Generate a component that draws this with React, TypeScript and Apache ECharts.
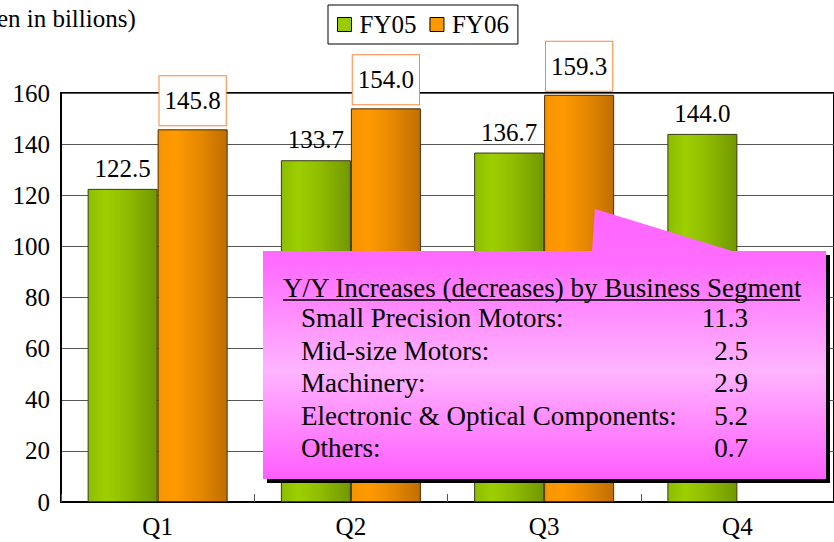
import React, { useEffect, useRef } from "react";
import * as echarts from "echarts";

const categories = ["Q1", "Q2", "Q3", "Q4"];
const fy05 = [122.5, 133.7, 136.7, 144.0];
const fy06: (number | null)[] = [145.8, 154.0, 159.3, null];
const seriesNames = ["FY05", "FY06"];
const yTicks = { min: 0, max: 160, interval: 20 };
const unitLabel = "(Yen in billions)";
const calloutTitle = "Y/Y Increases (decreases) by Business Segment";
const segments = [
  "Small Precision Motors:",
  "Mid-size Motors:",
  "Machinery:",
  "Electronic & Optical Components:",
  "Others:",
];
const segmentValues = ["11.3", "2.5", "2.9", "5.2", "0.7"];

const FONT = '"Liberation Serif", "Times New Roman", serif';

export default function App() {
  const ref = useRef<HTMLDivElement>(null);
  useEffect(() => {
    if (!ref.current) return;
    const chart = echarts.init(ref.current, null, { renderer: "svg" });
    const green = new echarts.graphic.LinearGradient(0, 0, 1, 0, [
      { offset: 0, color: "#8cbd00" },
      { offset: 0.25, color: "#9dcf00" },
      { offset: 0.55, color: "#90bd00" },
      { offset: 1, color: "#719800" },
    ]);
    const orange = new echarts.graphic.LinearGradient(0, 0, 1, 0, [
      { offset: 0, color: "#f59300" },
      { offset: 0.25, color: "#ff9a00" },
      { offset: 0.6, color: "#e68800" },
      { offset: 1, color: "#c06e00" },
    ]);
    const pink = new echarts.graphic.LinearGradient(0, 0, 0, 1, [
      { offset: 0, color: "#ff66ff" },
      { offset: 0.2, color: "#ff6cff" },
      { offset: 0.6, color: "#ffb4ff" },
      { offset: 1, color: "#ff5eff" },
    ]);
    const boxL = 263, boxT = 251, boxR = 826, boxB = 479;
    const rowY0 = 318, rowStep = 32.5;
    const graphics: any[] = [
      {
        type: "text",
        left: -27,
        top: 6,
        style: { text: unitLabel, font: `25px ${FONT}`, fill: "#000" },
        z: 100,
      },
      {
        type: "rect",
        shape: { x: boxL + 4, y: boxT + 4, width: boxR - boxL, height: boxB - boxT },
        style: { fill: "#000" },
        z: 100,
      },
      {
        type: "polygon",
        shape: {
          points: [
            [boxL, boxT],
            [592, boxT],
            [595, 209],
            [732, boxT],
            [boxR, boxT],
            [boxR, boxB],
            [boxL, boxB],
          ],
        },
        style: { fill: pink },
        z: 101,
      },
      {
        type: "text",
        x: 283,
        y: 288,
        style: {
          text: calloutTitle,
          font: `27px ${FONT}`,
          fill: "#000",
          verticalAlign: "middle",
          align: "left",
        },
        z: 102,
      },
      {
        type: "line",
        shape: { x1: 283, y1: 300, x2: 800, y2: 300 },
        style: { stroke: "#000", lineWidth: 1.5 },
        z: 102,
      },
    ];
    segments.forEach((s, i) => {
      graphics.push({
        type: "text",
        x: 301,
        y: rowY0 + i * rowStep,
        style: { text: s, font: `27px ${FONT}`, fill: "#000", verticalAlign: "middle", align: "left" },
        z: 102,
      });
      graphics.push({
        type: "text",
        x: 748,
        y: rowY0 + i * rowStep,
        style: { text: segmentValues[i], font: `27px ${FONT}`, fill: "#000", verticalAlign: "middle", align: "right" },
        z: 102,
      });
    });

    chart.setOption({
      animation: false,
      textStyle: { fontFamily: FONT },
      grid: {
        left: 61,
        top: 93,
        width: 779,
        height: 409,
        show: true,
        borderColor: "#000",
        borderWidth: 2,
        backgroundColor: "transparent",
      },
      legend: {
        left: 328,
        top: 5,
        padding: [7, 9, 7, 9],
        borderColor: "#000",
        borderWidth: 1,
        backgroundColor: "#fff",
        itemWidth: 14,
        itemHeight: 14,
        itemGap: 13,
        textStyle: { fontSize: 25, color: "#000", fontFamily: FONT, padding: [0, 0, 0, 3] },
        data: [
          { name: seriesNames[0], icon: "rect", itemStyle: { color: "#99cc00", borderColor: "#000", borderWidth: 1 } },
          { name: seriesNames[1], icon: "rect", itemStyle: { color: "#ff9900", borderColor: "#000", borderWidth: 1 } },
        ],
      },
      xAxis: {
        type: "category",
        data: categories,
        axisLine: { lineStyle: { color: "#000", width: 2 } },
        axisTick: { show: true, inside: true, length: 8, lineStyle: { color: "#555", width: 1 } },
        axisLabel: { fontSize: 25, color: "#000", fontFamily: FONT, margin: 12 },
      },
      yAxis: {
        type: "value",
        min: yTicks.min,
        max: yTicks.max,
        interval: yTicks.interval,
        axisLine: { show: true, lineStyle: { color: "#000", width: 2 } },
        axisTick: { show: false },
        splitLine: { lineStyle: { color: "#555", width: 1 } },
        axisLabel: { fontSize: 25, color: "#000", fontFamily: FONT, margin: 11 },
      },
      series: [
        {
          name: seriesNames[0],
          type: "bar",
          data: fy05,
          barWidth: 70,
          barGap: "0%",
          itemStyle: { color: green, borderColor: "#3a3a1a", borderWidth: 1 },
          label: {
            show: true,
            position: "top",
            distance: 8,
            fontSize: 25,
            color: "#000",
            fontFamily: FONT,
            formatter: (p: any) => Number(p.value).toFixed(1),
          },
        },
        {
          name: seriesNames[1],
          type: "bar",
          data: fy06,
          barWidth: 70,
          barGap: "0%",
          itemStyle: { color: orange, borderColor: "#4a2a00", borderWidth: 1 },
          label: {
            show: true,
            position: "top",
            distance: 4,
            fontSize: 25,
            color: "#000",
            fontFamily: FONT,
            backgroundColor: "#fff",
            borderColor: "#f7883f",
            borderWidth: 1,
            padding: [12, 5, 12, 5],
            formatter: (p: any) => Number(p.value).toFixed(1),
          },
        },
      ],
      graphic: graphics,
    });
    return () => chart.dispose();
  }, []);
  return <div ref={ref} style={{ width: 834, height: 542, position: "absolute", left: 0, top: 0 }} />;
}
